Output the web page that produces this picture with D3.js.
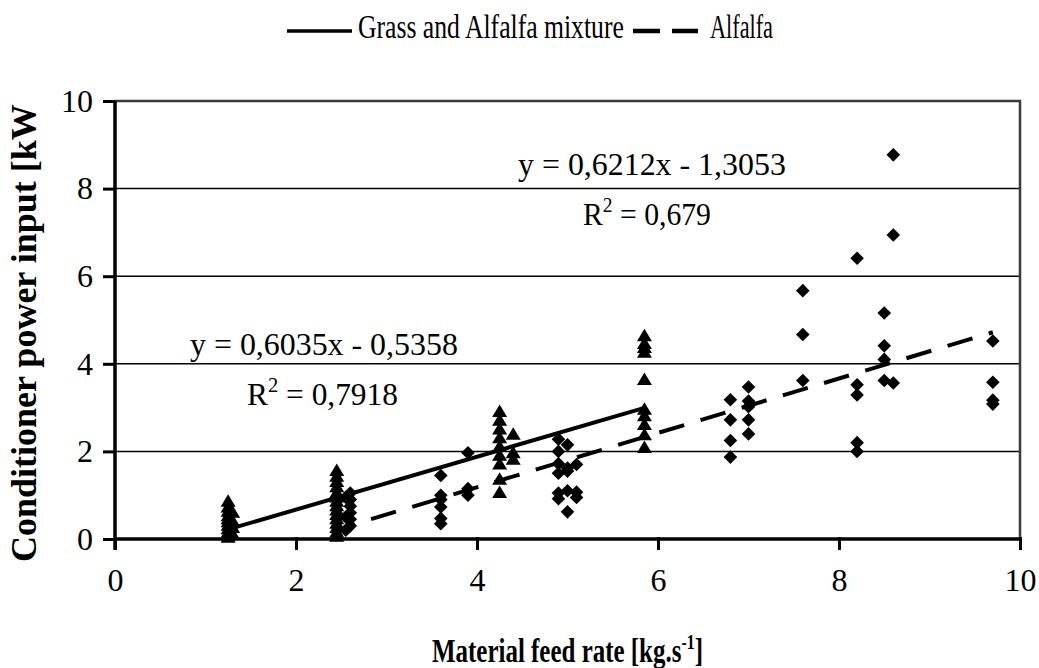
<!DOCTYPE html>
<html><head><meta charset="utf-8">
<script src="https://cdn.jsdelivr.net/npm/d3@7"></script>
<style>
html,body{margin:0;padding:0;background:#fff;}
svg{display:block;font-family:"Liberation Serif","Times New Roman",serif;}
</style></head>
<body><svg id="chart" width="1039" height="668"></svg>
<script>
// ---- data ----
const xTicks = [0, 2, 4, 6, 8, 10];
const yTicks = [0, 2, 4, 6, 8, 10];
const seriesNames = ["Grass and Alfalfa mixture", "Alfalfa"];
const mixtureRates = [1.25, 1.3, 2.45, 4.25, 4.4, 5.85];
const mixturePowers = [
  [0.85, 0.72, 0.62, 0.52, 0.45, 0.38, 0.3, 0.22, 0.15, 0.08, 0.03],
  [0.6, 0.4, 0.25, 0.1],
  [1.55, 1.42, 1.3, 1.18, 1.05, 0.95, 0.85, 0.75, 0.65, 0.55, 0.45, 0.35, 0.25, 0.15, 0.05],
  [2.9, 2.7, 2.5, 2.3, 2.1, 1.9, 1.7, 1.35, 1.05],
  [2.38, 1.96, 1.81],
  [4.63, 4.45, 4.36, 4.25, 3.63, 2.95, 2.8, 2.6, 2.37, 2.08]
];
const alfalfaRates = [2.55, 2.6, 3.6, 3.9, 4.9, 5.0, 5.1, 6.8, 7.0, 7.6, 8.2, 8.5, 8.6, 9.7];
const alfalfaPowers = [
  [0.95, 0.5, 0.2],
  [1.05, 0.9, 0.75, 0.6, 0.45, 0.3],
  [1.45, 1.0, 0.9, 0.73, 0.47, 0.35],
  [1.97, 1.15, 1.0],
  [2.28, 2.0, 1.72, 1.5, 1.05, 0.92],
  [2.15, 1.62, 1.55, 1.1, 0.62],
  [1.7, 1.07, 0.95],
  [3.18, 2.72, 2.25, 1.87],
  [3.47, 3.15, 3.02, 2.72, 2.4],
  [5.67, 4.67, 3.62],
  [6.41, 3.52, 3.29, 2.2, 2.0],
  [5.16, 4.41, 4.1, 3.62],
  [8.77, 6.94, 3.56],
  [4.52, 3.58, 3.17, 3.08]
];
const trendSlopes = [0.6035, 0.6212];
const trendIntercepts = [-0.5358, -1.3053];
const trendRange = [[1.25, 5.85], [2.55, 9.7]];
const eqTexts = ["y = 0,6035x - 0,5358", "y = 0,6212x - 1,3053"];
const r2Texts = ["0,7918", "0,679"];

// ---- layout ----
const svg = d3.select("#chart");
const L = 115, R = 1020, T = 101, B = 539;
const x = d3.scaleLinear().domain([0, 10]).range([L, R]);
const y = d3.scaleLinear().domain([0, 10]).range([B, T]);

// gridlines
svg.append("g").selectAll("line").data(yTicks.filter(v => v > 0 && v < 10)).join("line")
  .attr("x1", L).attr("x2", R).attr("y1", d => y(d)).attr("y2", d => y(d))
  .attr("stroke", "#000").attr("stroke-width", 1.5);

// plot border (top/right)
svg.append("path").attr("d", `M${L},${T}H${R}V${B}`).attr("fill", "none")
  .attr("stroke", "#3a3a3a").attr("stroke-width", 2.5);

// axes
const xAxis = d3.axisBottom(x).tickValues(xTicks).tickSize(11).tickPadding(18).tickFormat(d3.format("d"));
const gx = svg.append("g").attr("transform", `translate(0,${B})`).call(xAxis);
gx.select(".domain").attr("stroke-width", 3.5).attr("d", `M${L},0H${R}`);
gx.selectAll(".tick line").attr("stroke-width", 3).attr("y1", -2);
gx.selectAll(".tick text").attr("font-size", 32).attr("font-family", "Liberation Serif").attr("fill", "#000");

const yAxis = d3.axisLeft(y).tickValues(yTicks).tickSize(12).tickPadding(10).tickFormat(d3.format("d"));
const gy = svg.append("g").attr("transform", `translate(${L},0)`).call(yAxis);
gy.select(".domain").attr("stroke-width", 3.5).attr("d", `M0,${T}V${B + 11}`);
gy.selectAll(".tick line").attr("stroke-width", 3);
gy.selectAll(".tick text").attr("font-size", 32).attr("font-family", "Liberation Serif").attr("fill", "#000");

// flatten
const mixPts = mixtureRates.flatMap((r, i) => mixturePowers[i].map(p => [r, p]));
const alfPts = alfalfaRates.flatMap((r, i) => alfalfaPowers[i].map(p => [r, p]));

// markers
svg.append("g").selectAll("path").data(alfPts).join("path")
  .attr("transform", d => `translate(${x(d[0])},${y(d[1])})`)
  .attr("d", "M0,-6.8L6.8,0L0,6.8L-6.8,0Z").attr("fill", "#000");
svg.append("g").selectAll("path").data(mixPts).join("path")
  .attr("transform", d => `translate(${x(d[0])},${y(d[1])})`)
  .attr("d", "M0,-7.5L7.5,5L-7.5,5Z").attr("fill", "#000");

// trendlines
const line = d3.line().x(d => x(d[0])).y(d => y(d[1]));
[0, 1].forEach(i => {
  const pts = trendRange[i].map(v => [v, trendSlopes[i] * v + trendIntercepts[i]]);
  const p = svg.append("path").attr("d", line(pts)).attr("fill", "none")
    .attr("stroke", "#000").attr("stroke-width", 4);
  if (i === 1) p.attr("stroke-dasharray", "26,17").attr("stroke-dashoffset", 16.6);
});

// fit helper: scale a text horizontally to a target width, anchored at its x
function fitWidth(sel, x0, y0, w) {
  const bb = sel.node().getBBox();
  const k = w / bb.width;
  sel.attr("x", 0).attr("y", 0).attr("transform", `translate(${x0},${y0}) scale(${k},1)`);
}

// equation labels
const eqPos = [[190, 355, 268, 247, 405, 151], [518, 175, 268, 583, 225, 128]];
[0, 1].forEach(i => {
  const [ex, ey, ew, rx, ry, rw] = eqPos[i];
  const e = svg.append("text").attr("font-size", 32).text(eqTexts[i]);
  fitWidth(e, ex, ey, ew);
  const t = svg.append("text").attr("font-size", 32);
  t.append("tspan").text("R");
  t.append("tspan").attr("dy", -13).attr("font-size", 21).text("2");
  t.append("tspan").attr("dy", 13).text(" = " + r2Texts[i]);
  fitWidth(t, rx, ry, rw);
});

// legend
svg.append("line").attr("x1", 287).attr("x2", 352).attr("y1", 31).attr("y2", 31)
  .attr("stroke", "#000").attr("stroke-width", 3.5);
const l1 = svg.append("text").attr("font-size", 34).text(seriesNames[0]);
fitWidth(l1, 358, 38, 266);
svg.append("line").attr("x1", 633).attr("x2", 698).attr("y1", 31).attr("y2", 31)
  .attr("stroke", "#000").attr("stroke-width", 4.5).attr("stroke-dasharray", "27,12");
const l2 = svg.append("text").attr("font-size", 34).text(seriesNames[1]);
fitWidth(l2, 710, 38, 63);

// axis titles
const xt = svg.append("text").attr("font-size", 33).attr("font-weight", "bold");
xt.append("tspan").text("Material feed rate [kg.s");
xt.append("tspan").attr("dy", -13).attr("font-size", 21).text("-1");
xt.append("tspan").attr("dy", 13).text("]");
fitWidth(xt, 432, 662, 271);

svg.append("clipPath").attr("id", "ylabclip").append("rect")
  .attr("x", 0).attr("y", 104).attr("width", 60).attr("height", 500);
svg.append("g").attr("clip-path", "url(#ylabclip)").append("text")
  .attr("transform", "translate(36,562) rotate(-90)")
  .attr("font-size", 36).attr("font-weight", "bold")
  .text("Conditioner power input [kW]");
</script></body></html>
